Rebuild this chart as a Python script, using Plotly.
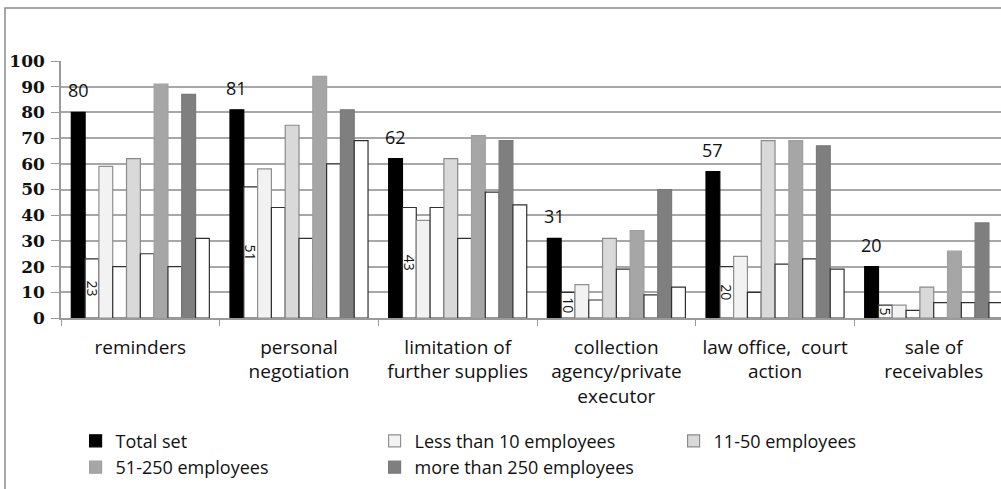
import plotly.graph_objects as go

categories = ["reminders", "personal<br>negotiation", "limitation of<br>further supplies",
              "collection<br>agency/private<br>executor", "law office,  court<br>action",
              "sale of<br>receivables"]

total_set = [80, 81, 62, 31, 57, 20]
total_set_b = [23, 51, 43, 10, 20, 5]
less_10 = [59, 58, 38, 13, 24, 5]
less_10_b = [20, 43, 43, 7, 10, 3]
emp_11_50 = [62, 75, 62, 31, 69, 12]
emp_11_50_b = [25, 31, 31, 19, 21, 6]
emp_51_250 = [91, 94, 71, 34, 69, 26]
emp_51_250_b = [20, 60, 49, 9, 23, 6]
more_250 = [87, 81, 69, 50, 67, 37]
more_250_b = [31, 69, 44, 12, 19, 6]

y_ticks = [0, 10, 20, 30, 40, 50, 60, 70, 80, 90, 100]

series = [
    ("Total set", total_set, "#000000", "#000000", True),
    ("Total set (b)", total_set_b, "#ffffff", "#303030", False),
    ("Less than 10 employees", less_10, "#f2f2f2", "#909090", True),
    ("Less than 10 employees (b)", less_10_b, "#ffffff", "#303030", False),
    ("11-50 employees", emp_11_50, "#d9d9d9", "#8a8a8a", True),
    ("11-50 employees (b)", emp_11_50_b, "#ffffff", "#303030", False),
    ("51-250 employees", emp_51_250, "#a6a6a6", "#a0a0a0", True),
    ("51-250 employees (b)", emp_51_250_b, "#ffffff", "#303030", False),
    ("more than 250 employees", more_250, "#7f7f7f", "#7a7a7a", True),
    ("more than 250 employees (b)", more_250_b, "#ffffff", "#303030", False),
]

W, H = 1001, 489
ml, mt, mb = 61, 61, 171
pw = W - ml
ph = H - mt - mb
x_range = [-0.5, 5.424]
bargap = 0.13

fig = go.Figure()
for i, (name, vals, color, line, show) in enumerate(series):
    kw = {}
    if i == 1:
        kw = dict(text=[str(v) for v in vals], textposition="inside", textangle=90,
                  insidetextanchor="middle", constraintext="none",
                  textfont=dict(family="Open Sans", size=14, color="#111111"))
    fig.add_trace(go.Bar(
        x=categories, y=vals, name=name, showlegend=show,
        marker=dict(color=color, line=dict(color=line, width=1.2)),
        hoverinfo="skip", **kw))

# labels for the "Total set" bars (first bar of each group)
n = len(series)
unit_px = pw / (x_range[1] - x_range[0])
first_bar_shift = -((n - 1) / 2) * (1 - bargap) / n * unit_px
annotations = [dict(x=c, y=v, xref="x", yref="y", text=str(v), showarrow=False,
                    xanchor="center", yanchor="bottom", xshift=first_bar_shift, yshift=8,
                    font=dict(family="Open Sans", size=18, color="#111111"))
               for c, v in zip(categories, total_set)]

fig.update_layout(
    width=W, height=H,
    margin=dict(l=ml, r=0, t=mt, b=mb, autoexpand=False),
    barmode="group", bargap=bargap, bargroupgap=0,
    plot_bgcolor="white", paper_bgcolor="white",
    font=dict(family="Open Sans", size=18, color="#111111"),
    xaxis=dict(range=x_range, showgrid=False, showline=True, linecolor="#9a9a9a",
               linewidth=1.5, ticks="outside", tickson="boundaries", ticklen=6,
               tickcolor="#9a9a9a", automargin=False,
               tickfont=dict(family="Open Sans", size=19, color="#111111"),
               ticklabelstandoff=11),
    yaxis=dict(range=[0, 100], tickvals=y_ticks, showgrid=True, gridcolor="#a8a8a8",
               gridwidth=1.5, showline=True, linecolor="#9a9a9a", linewidth=1.5,
               ticks="outside", ticklen=8, tickcolor="#9a9a9a", zeroline=False,
               automargin=False, ticklabelstandoff=3,
               tickfont=dict(family="DejaVu Serif", size=17, color="#111111", weight="bold")),
    legend=dict(orientation="h", x=0.0155, xanchor="left", y=-0.407, yanchor="top",
                entrywidth=254, entrywidthmode="pixels", itemwidth=30,
                font=dict(family="Open Sans", size=18, color="#111111"),
                tracegroupgap=0),
    annotations=annotations,
    shapes=[dict(type="rect", xref="paper", yref="paper",
                 x0=(5 - ml) / pw, x1=1.2, y0=-1.0, y1=(H - mb - 8) / ph,
                 line=dict(color="#8a8a8a", width=1.5), fillcolor="rgba(0,0,0,0)",
                 layer="below")],
)

fig.write_html("out.html", config={"displayModeBar": False},
               post_script="document.body.style.margin='0px';")
